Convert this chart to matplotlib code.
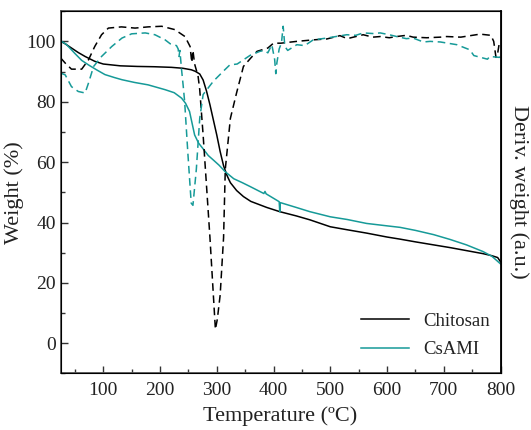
import matplotlib
matplotlib.use("Agg")
import matplotlib.pyplot as plt
from matplotlib.ticker import MultipleLocator

plt.rcParams['font.family'] = ['Liberation Serif', 'DejaVu Serif']

teal = "#169a98"

# TGA - Chitosan
chi_T = [25, 32, 44, 56, 68, 85, 100, 130, 160, 190, 220, 240, 255, 262, 270, 276,
         282, 288, 294, 300, 306, 312, 318, 324, 335, 347, 360, 388, 411, 440, 464,
         500, 530, 564, 600, 623, 650, 682, 711, 740, 769, 785, 795, 800]
chi_W = [100, 99.3, 97.8, 96.3, 95, 93.4, 92.5, 91.9, 91.7, 91.6, 91.4, 91.1, 90.6,
         90.1, 89.2, 87.2, 83.5, 79, 74, 69, 63.5, 58.8, 55.6, 53.2, 50.6, 48.6, 47,
         45.0, 43.6, 42.2, 40.9, 38.6, 37.6, 36.5, 35.2, 34.5, 33.6, 32.6, 31.7, 30.7,
         29.7, 29.0, 28.4, 27.0]

# TGA - CsAMI
cs_T = [25, 35, 50, 62, 74, 88, 103, 120, 133, 155, 179, 209, 225, 238, 245, 252, 261,
        268, 276, 285, 294, 304, 315, 330, 345, 359, 383, 385, 387, 410, 411, 412, 440,
        464, 500, 530, 564, 600, 623, 650, 682, 711, 740, 769, 785, 800]
cs_W = [100.2, 99, 96, 93.7, 92.2, 90.6, 89, 88, 87.3, 86.4, 85.6, 84, 83, 81.2, 79.5,
        76.8, 69, 66.3, 64.4, 62.2, 60.7, 59, 56.8, 54.5, 53.2, 51.9, 49.6, 50.3, 49.5,
        46.9, 43.6, 46.6, 45, 43.6, 41.9, 41, 39.7, 38.9, 38.4, 37.4, 36.0, 34.4, 32.6,
        30.4, 28.8, 26.3]

# DTG - Chitosan
chi_dT = [25, 33, 44, 62, 74, 85, 97, 109, 132, 156, 179, 203, 226, 244, 253, 256, 258,
          261, 264, 267, 270, 276, 282, 288, 294, 297.6, 301, 306, 312, 315, 324, 335,
          347, 360, 371, 390, 400, 413, 441, 470, 494, 517, 530, 558, 575, 588, 604, 617,
          634, 646, 670, 694, 705, 730, 764, 783, 788, 792, 795, 798, 800]
chi_dD = [94.5, 92.8, 90.8, 90.8, 93.9, 98.3, 102.2, 104.4, 104.8, 104.4, 104.8, 105,
          103.9, 101.6, 98.3, 93, 97, 92.5, 90.5, 88.6, 84, 68.9, 52, 35, 16, 4.6, 8,
          16, 35, 57.6, 74.5, 83, 91.7, 94.5, 96.7, 97.8, 99.4, 99.4, 100, 100.5, 100.8,
          101.9, 100.9, 102.2, 101.4, 101.6, 101.2, 101.6, 102, 101.4, 101.2, 101.4,
          101.6, 101.4, 102.4, 102, 100, 94.7, 96.1, 99.6, 99.8]

# DTG - CsAMI
cs_dT = [25, 33, 44, 56, 68, 74, 83, 97, 115, 133, 150, 174, 191, 209, 218, 229, 232,
         233.5, 235, 238, 241, 243.4, 249, 255, 258, 264, 270, 276, 294, 312, 323, 336,
         359, 376, 384, 390, 397, 402, 404, 406, 410, 414, 417, 420, 425, 441, 455, 470,
         494, 529, 545, 558, 575, 588, 604, 617, 634, 646, 664, 676, 694, 723, 746, 753,
         777, 781, 798, 800]
cs_dD = [89.5, 88.9, 85, 83.4, 82.9, 86.2, 91.7, 95, 98.3, 101.1, 102.5, 102.8, 102.2,
         100.5, 99.2, 98.6, 97.5, 95, 97, 90.6, 85, 80.1, 63.2, 46.4, 45.7, 57.6, 74.5,
         82.4, 86.8, 90.2, 92.2, 92.5, 95.4, 96.7, 97, 96.2, 98.9, 94, 89.3, 93, 97.5,
         99.5, 105, 98.3, 97, 98.9, 98.6, 100.5, 101.1, 102.2, 102, 102.8, 102.6, 102.8,
         102.2, 101.6, 100.9, 101.1, 99.8, 100, 99.8, 98.9, 97.2, 95.3, 94.1, 95, 94.7,
         95]

fig = plt.figure(figsize=(5.31, 4.30), dpi=100)
ax = fig.add_axes([0.1143, 0.1314, 0.8283, 0.8426])

ax.plot(chi_T, chi_W, color="black", lw=1.1, label="Chitosan")
ax.plot(cs_T, cs_W, color=teal, lw=1.1, label="CsAMI")

ax.set_xlim(25, 800)
ax.set_ylim(-10, 110)
ax.xaxis.set_major_locator(MultipleLocator(100))
ax.xaxis.set_minor_locator(MultipleLocator(50))
ax.yaxis.set_major_locator(MultipleLocator(20))
ax.yaxis.set_minor_locator(MultipleLocator(10))
ax.tick_params(which="both", direction="in", top=False, right=False,
               labelsize=14, colors="#333333", width=1)
ax.tick_params(which="major", length=5)
ax.tick_params(which="minor", length=3)
ax.tick_params(axis="x", pad=6)
ax.tick_params(axis="both", labelcolor="#222222")
ax.set_xlabel("Temperature (ºC)", fontsize=16, color="#222222", labelpad=5)
ax.set_ylabel("Weight (%)", fontsize=16, color="#222222", labelpad=2)
for side in ["left", "bottom", "top"]:
    ax.spines[side].set_color("#555555")
    ax.spines[side].set_linewidth(1.3)

leg = ax.legend(loc="lower right", bbox_to_anchor=(1.015, -0.005), frameon=False,
                fontsize=13.5, handlelength=2.6, handletextpad=0.75, labelspacing=0.6)
for t in leg.get_texts():
    t.set_color("#222222")

# derivative curves on the right-hand axis
ax2 = ax.twinx()
ax2.plot(chi_dT, chi_dD, color="black", lw=1.1, ls=(0, (5, 3)))
ax2.plot(cs_dT, cs_dD, color=teal, lw=1.1, ls=(0, (5, 3)))
ax2.set_ylim(-10, 110)
ax2.set_yticks([])
ax2.spines["right"].set_linewidth(1.3)
ax2.spines["right"].set_color("black")
ax2.set_ylabel("Deriv. weight (a.u.)", fontsize=16, rotation=270,
               labelpad=20, color="#222222")

fig.savefig("out.png", dpi=100)
